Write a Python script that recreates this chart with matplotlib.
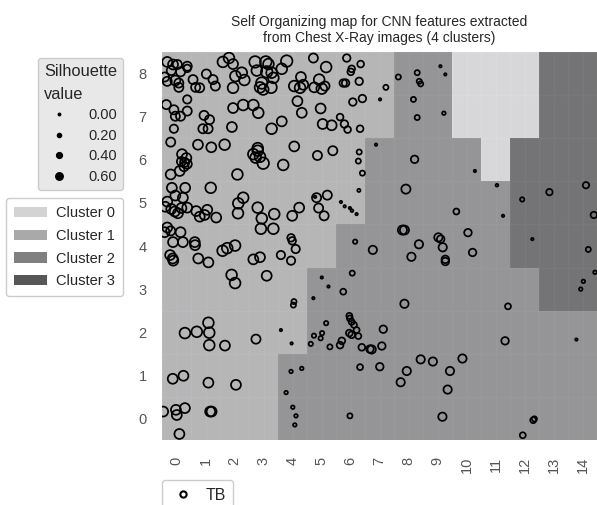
import matplotlib
matplotlib.use("Agg")
import matplotlib.pyplot as plt
from matplotlib.colors import ListedColormap
from matplotlib.lines import Line2D
from matplotlib.patches import Patch
import numpy as np

plt.rcParams['font.family'] = ['Liberation Sans', 'DejaVu Sans']

# SOM grid size and winning-node cluster labels (rows from y=0 to y=8)
n_cols = 15
n_rows = 9
cluster_map = [
    [1, 1, 1, 1, 2, 2, 2, 2, 2, 2, 2, 2, 2, 2, 2],
    [1, 1, 1, 1, 2, 2, 2, 2, 2, 2, 2, 2, 2, 2, 2],
    [1, 1, 1, 1, 1, 2, 2, 2, 2, 2, 2, 2, 2, 2, 2],
    [1, 1, 1, 1, 1, 2, 2, 2, 2, 2, 2, 2, 2, 3, 3],
    [1, 1, 1, 1, 1, 1, 2, 2, 2, 2, 2, 2, 3, 3, 3],
    [1, 1, 1, 1, 1, 1, 1, 2, 2, 2, 2, 2, 3, 3, 3],
    [1, 1, 1, 1, 1, 1, 1, 2, 2, 2, 2, 0, 3, 3, 3],
    [1, 1, 1, 1, 1, 1, 1, 1, 2, 2, 0, 0, 0, 3, 3],
    [1, 1, 1, 1, 1, 1, 1, 1, 2, 2, 0, 0, 0, 3, 3],
]
cluster_names = ['Cluster 0', 'Cluster 1', 'Cluster 2', 'Cluster 3']
cluster_colors = ['#d3d3d3', '#a9a9a9', '#808080', '#575757']

# TB samples: position on the map (with jitter) and silhouette value
tb_x = [
    0.18, 0.38, 0.53, 0.87, 0.87, 0.32, 0.64, 0.09, 0.18, 0.46, 0.58, 0.58, 1.07, 1.16, 1.30,
    1.53, 1.76, 1.84, 2.10, 2.31, 2.45, 2.53, 2.45, 0.87, 0.15, 0.41, 0.46, 0.64, 0.87, 1.45,
    1.64, 1.41, 1.59, 0.41, 2.41, 0.30, 1.24, 1.70, 2.16, 2.45,
    2.75, 2.84, 3.21, 3.58, 3.67, 3.27, 3.61, 3.78, 3.84, 3.44, 3.38, 3.49, 3.76, 4.13, 4.30,
    4.79, 4.56, 4.76, 4.87, 5.22, 5.25, 4.67, 4.82, 2.80, 3.15, 3.32, 4.13, 3.78, 3.30, 4.56,
    5.66, 6.37, 6.85, 6.54, 6.51, 5.42, 5.51, 5.62, 6.25, 6.33, 6.80, 7.72, 6.58, 6.91, 7.52,
    5.47, 6.14, 5.54, 5.85, 6.29, 6.40, 6.83, 7.38,
    0.69, 0.84, 0.78, 0.87, 0.76, 0.67, 0.61, 0.30, 0.34, 0.80, 0.46, 0.72, 1.68, 2.60, 0.18,
    0.11, 0.32, 0.44, 0.55, 0.67, 0.87, 1.18, 1.30, 1.56, 1.47, 1.87, 2.62, 0.18, 0.30, 0.09,
    0.64, 0.38, 0.72, 1.13,
    3.15, 3.30, 3.38, 3.23, 3.49, 4.18, 2.80, 2.63, 3.30, 3.44, 3.87, 3.41, 3.84, 4.73, 4.49,
    4.45, 4.49, 5.28,
    5.36, 5.89, 6.80, 6.77, 6.91, 6.79, 5.33, 5.70, 5.40, 5.59, 6.17, 6.30, 6.48, 6.55, 6.71,
    6.66,
    8.15, 8.80, 8.87, 8.92, 9.60, 9.77, 8.67, 8.80, 9.72, 8.71, 10.79, 8.41, 11.55, 12.42, 13.36,
    14.62, 14.89, 11.76, 10.15, 10.55, 8.29, 8.36, 9.53, 9.61,
    12.77, 14.70, 14.93, 14.53, 14.44, 7.27, 8.86, 8.60, 9.68, 9.77, 9.77, 10.71, 8.36, 11.93, 7.63,
    7.23, 7.58, 7.51, 11.83, 14.29, 8.92, 9.34, 10.36, 8.44, 9.93, 8.23, 9.85, 9.67, 12.80, 12.84,
    12.44,
    1.14, 2.09, 2.25, 2.52, 0.28, 0.37, 0.39, 1.25, 1.60, 3.15, 3.38, 4.10, 4.45, 4.61, 2.40,
    2.52, 3.61, 4.55, 4.53, 5.51, 5.74, 5.22, 6.56, 6.25, 1.60, 0.79, 1.20, 1.63, 1.63, 2.17,
    3.24, 4.10, 4.47, 5.66, 5.24, 5.52, 5.47, 5.13, 5.79, 6.14, 6.20, 6.46, 6.48, 6.54, 6.62,
    6.71, 6.46, 6.54, 6.77, 6.89, 7.17, 6.83, 0.37, 0.74, 1.60, 2.55, 4.45, 4.82, 4.28, 4.51,
    4.62, 4.58, 6.48, 0.04, 0.48, 0.51, 0.79, 0.60, 1.66, 1.71,
]
tb_y = [
    8.77, 8.71, 8.71, 8.67, 8.62, 8.57, 8.54, 8.42, 8.32, 8.34, 8.28, 8.18, 8.36, 8.18, 8.17,
    8.49, 8.36, 8.21, 8.77, 8.86, 8.72, 8.44, 8.17, 7.90, 7.78, 7.66, 7.51, 7.51, 7.63, 7.53,
    7.43, 7.22, 7.22, 7.22, 7.26, 6.91, 6.85, 6.79, 6.85, 7.70,
    8.52, 8.35, 8.77, 8.77, 8.72, 8.57, 8.54, 8.52, 8.40, 8.28, 8.18, 8.13, 8.18, 8.61, 8.79,
    8.42, 8.21, 8.17, 8.24, 8.86, 8.18, 7.86, 7.59, 7.77, 7.77, 7.59, 7.39, 7.22, 6.77, 6.81,
    8.65, 8.86, 8.72, 8.61, 8.54, 8.36, 8.15, 8.21, 8.28, 8.28, 8.32, 8.18, 7.84, 7.92, 7.90,
    7.69, 7.49, 7.33, 7.30, 7.33, 7.20, 7.22, 6.85,
    6.63, 6.54, 6.44, 6.40, 6.34, 6.46, 6.24, 6.16, 5.85, 5.85, 5.67, 5.62, 5.85, 6.16, 5.53,
    5.41, 5.36, 5.30, 5.26, 5.38, 5.39, 5.31, 5.18, 5.34, 5.22, 5.16, 5.26, 4.93, 4.85, 4.82,
    4.82, 4.59, 4.59, 4.59,
    6.63, 6.71, 6.57, 6.55, 6.42, 6.38, 5.62, 5.49, 5.39, 5.14, 5.24, 4.90, 4.90, 5.39, 5.20,
    4.69, 4.62, 5.64,
    6.60, 6.71, 6.68, 6.47, 6.19, 5.79, 5.62, 5.68, 5.38, 5.20, 5.52, 5.42, 5.38, 5.32, 5.24,
    4.60,
    8.42, 8.52, 8.32, 8.26, 8.67, 8.48, 7.90, 7.48, 7.58, 6.51, 6.24, 5.82, 5.91, 5.58, 5.75,
    5.91, 5.22, 5.20, 5.30, 4.81, 4.87, 4.87, 4.70, 4.66,
    4.66, 4.42, 3.89, 3.68, 3.50, 4.41, 4.54, 4.25, 4.47, 4.19, 4.14, 4.35, 3.16, 3.10, 2.57,
    2.10, 2.18, 1.70, 2.30, 2.33, 1.87, 1.82, 1.89, 1.60, 1.60, 1.34, 1.17, 0.54, 0.46, 0.49,
    0.11,
    4.52, 4.39, 4.45, 4.51, 4.29, 4.21, 4.16, 4.21, 4.12, 4.19, 4.24, 4.29, 4.16, 4.43, 3.83,
    3.64, 3.81, 3.21, 3.13, 3.77, 3.56, 3.29, 3.87, 3.44, 2.72, 2.48, 2.51, 2.49, 2.20, 2.19,
    2.34, 2.55, 2.24, 2.71, 2.42, 2.48, 2.36, 2.23, 2.16, 2.20, 2.30, 2.88, 2.82, 2.74, 2.67,
    2.55, 2.48, 2.44, 2.41, 2.15, 2.11, 1.69, 1.42, 1.49, 1.33, 1.28, 1.59, 1.66, 1.10, 0.76,
    0.56, 0.35, 0.56, 0.66, 0.70, 0.58, 0.74, 0.14, 0.66, 0.66,
]
tb_silhouette = [
    0.50, 0.50, 0.45, 0.45, 0.35, 0.45, 0.45, 0.45, 0.45, 0.50, 0.45, 0.45, 0.45, 0.45, 0.45,
    0.45, 0.45, 0.45, 0.55, 0.55, 0.50, 0.55, 0.55, 0.40, 0.45, 0.45, 0.45, 0.45, 0.45, 0.45,
    0.45, 0.45, 0.45, 0.40, 0.50, 0.45, 0.50, 0.50, 0.55, 0.50,
    0.55, 0.55, 0.60, 0.60, 0.55, 0.55, 0.60, 0.55, 0.55, 0.60, 0.55, 0.55, 0.60, 0.55, 0.60,
    0.50, 0.55, 0.55, 0.50, 0.45, 0.50, 0.50, 0.50, 0.55, 0.55, 0.55, 0.50, 0.55, 0.55, 0.50,
    0.55, 0.35, 0.30, 0.30, 0.30, 0.55, 0.55, 0.45, 0.35, 0.35, 0.35, 0.20, 0.35, 0.35, 0.03,
    0.50, 0.30, 0.50, 0.50, 0.35, 0.30, 0.30, 0.03,
    0.50, 0.50, 0.45, 0.45, 0.45, 0.45, 0.50, 0.50, 0.50, 0.50, 0.50, 0.50, 0.55, 0.55, 0.50,
    0.50, 0.50, 0.50, 0.50, 0.50, 0.50, 0.50, 0.50, 0.50, 0.50, 0.50, 0.55, 0.50, 0.45, 0.50,
    0.50, 0.50, 0.50, 0.50,
    0.55, 0.55, 0.55, 0.55, 0.60, 0.55, 0.55, 0.55, 0.55, 0.55, 0.55, 0.55, 0.55, 0.50, 0.50,
    0.35, 0.35, 0.03,
    0.45, 0.45, 0.20, 0.20, 0.20, 0.08, 0.45, 0.45, 0.45, 0.45, 0.03, 0.03, 0.03, 0.05, 0.03,
    0.15,
    0.20, 0.20, 0.20, 0.20, 0.03, 0.03, 0.20, 0.20, 0.10, 0.35, 0.03, 0.45, 0.05, 0.15, 0.28,
    0.28, 0.28, 0.03, 0.25, 0.35, 0.45, 0.45, 0.40, 0.35,
    0.03, 0.20, 0.10, 0.10, 0.10, 0.40, 0.40, 0.40, 0.40, 0.35, 0.35, 0.35, 0.40, 0.25, 0.35,
    0.40, 0.35, 0.35, 0.35, 0.03, 0.40, 0.40, 0.40, 0.40, 0.40, 0.40, 0.40, 0.40, 0.25, 0.20,
    0.25,
    0.50, 0.55, 0.55, 0.55, 0.50, 0.50, 0.50, 0.50, 0.50, 0.50, 0.50, 0.40, 0.40, 0.40, 0.55,
    0.55, 0.50, 0.20, 0.20, 0.03, 0.03, 0.03, 0.20, 0.25, 0.55, 0.55, 0.55, 0.55, 0.55, 0.50,
    0.45, 0.03, 0.03, 0.15, 0.15, 0.15, 0.15, 0.15, 0.20, 0.30, 0.30, 0.25, 0.25, 0.25, 0.25,
    0.25, 0.30, 0.30, 0.25, 0.30, 0.35, 0.25, 0.50, 0.50, 0.50, 0.50, 0.10, 0.10, 0.10, 0.10,
    0.10, 0.10, 0.20, 0.50, 0.50, 0.50, 0.50, 0.50, 0.50, 0.50,
]
legend_sil_values = [0.0, 0.2, 0.4, 0.6]
col_labels = [str(i) for i in range(n_cols)]
row_labels = [str(i) for i in range(n_rows)]


def marker_area(sil):
    # marker diameter grows linearly with silhouette value
    return (1.4 + 11.5 * np.asarray(sil)) ** 2


fig = plt.figure(figsize=(5.97, 5.05), dpi=100)
ax = fig.add_axes([162 / 597, 65 / 505, 435 / 597, 388 / 505])
ax.set_facecolor('#EAEAF2')
for s in ax.spines.values():
    s.set_visible(False)

# cluster map, slightly transparent so the grid shows through
cmap = ListedColormap(cluster_colors)
ax.pcolormesh(np.arange(n_cols + 1), np.arange(n_rows + 1), np.array(cluster_map),
              cmap=cmap, vmin=-0.5, vmax=3.5, alpha=0.8, zorder=1)

ax.scatter(tb_x, tb_y, s=marker_area(tb_silhouette), facecolors='none',
           edgecolors='black', linewidths=1.25, zorder=3)

ax.set_xlim(0, n_cols)
ax.set_ylim(0, n_rows)
ax.set_xticks(np.arange(n_cols) + 0.5)
ax.set_xticklabels(col_labels, rotation=90)
ax.set_yticks(np.arange(n_rows) + 0.5)
ax.set_yticklabels(row_labels)
ax.set_xticks(np.arange(n_cols + 1), minor=True)
ax.set_yticks(np.arange(n_rows + 1), minor=True)
ax.tick_params(which='both', length=0)
ax.tick_params(axis='x', pad=12, labelsize=10.5, labelcolor='#555555')
ax.tick_params(axis='y', pad=11, labelsize=10.5, labelcolor='#555555')
ax.set_axisbelow(True)
ax.grid(True, which='both', axis='x', color='white', linewidth=1.0)
ax.grid(True, which='minor', axis='y', color='white', linewidth=1.0)

ax.set_title('Self Organizing map for CNN features extracted\nfrom Chest X-Ray images (4 clusters)',
             fontsize=10, color='#262626', pad=7)

# silhouette size key
size_handles = [Line2D([], [], marker='o', linestyle='', color='black',
                       markersize=1.8 + 6 * v) for v in legend_sil_values]
leg1 = fig.legend(size_handles, ['%.2f' % v for v in legend_sil_values],
                  title='Silhouette\nvalue', loc='upper right',
                  bbox_to_anchor=(123 / 597, 1 - 58 / 505), borderaxespad=0,
                  fontsize=10.5, title_fontsize=11.8, alignment='left',
                  handlelength=2.0, handletextpad=1.0, labelspacing=0.45,
                  borderpad=0.4, facecolor='#e8e8e8', edgecolor='#cccccc',
                  framealpha=1, fancybox=True)
leg1.get_title().set_linespacing(1.65)
for t in leg1.get_texts():
    t.set_color('#262626')
leg1.get_title().set_color('#262626')

# cluster colour key
cluster_handles = [Patch(facecolor=c, edgecolor='none') for c in cluster_colors]
leg2 = fig.legend(cluster_handles, cluster_names, loc='upper right',
                  bbox_to_anchor=(123 / 597, 1 - 198 / 505), borderaxespad=0,
                  fontsize=10.5, handlelength=2.2, handleheight=0.7,
                  handletextpad=0.65, labelspacing=0.6, borderpad=0.55,
                  facecolor='white', edgecolor='#cccccc', framealpha=1,
                  fancybox=True)
for t in leg2.get_texts():
    t.set_color('#262626')

# class key under the map
tb_handle = Line2D([], [], marker='o', linestyle='', markerfacecolor='none',
                   markeredgecolor='black', markersize=4.5, markeredgewidth=1.5)
leg3 = ax.legend([tb_handle], ['TB'], loc='upper left', bbox_to_anchor=(0, -0.103),
                 borderaxespad=0, fontsize=11.5, handlelength=1.6,
                 handletextpad=0.6, borderpad=0.5, facecolor='white',
                 edgecolor='#cccccc', framealpha=1, fancybox=True)
for t in leg3.get_texts():
    t.set_color('#262626')

fig.savefig('out.png', dpi=100)
